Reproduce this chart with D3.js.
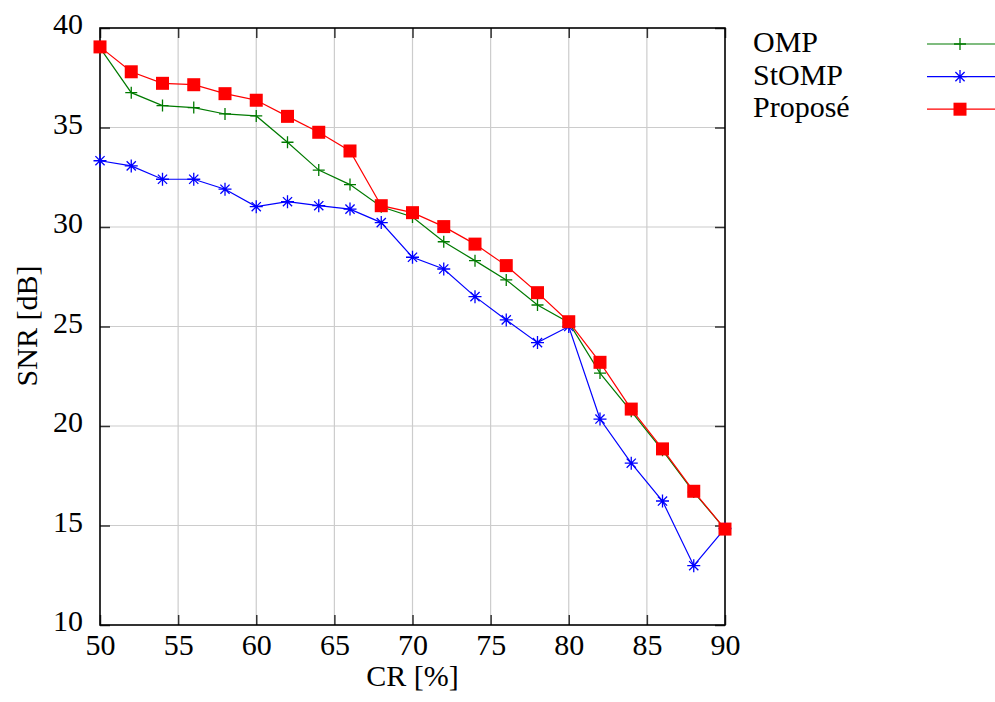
<!DOCTYPE html>
<html><head><meta charset="utf-8">
<script src="https://cdn.jsdelivr.net/npm/d3@7"></script>
<style>body{margin:0;background:#fff}svg{display:block}</style>
</head><body>
<svg id="c" width="995" height="702"></svg>
<script>
const cr = [50,52,54,56,58,60,62,64,66,68,70,72,74,76,78,80,82,84,86,88,90];
const omp = [39.0,36.75,36.1,36.0,35.68,35.58,34.26,32.86,32.13,31.02,30.5,29.26,28.31,27.34,26.08,25.2,22.66,20.74,18.78,16.68,14.82];
const stomp = [33.33,33.07,32.4,32.4,31.9,31.02,31.27,31.07,30.9,30.22,28.48,27.89,26.5,25.33,24.19,25.0,20.35,18.13,16.23,12.98,14.85];
const propose = [39.05,37.8,37.22,37.15,36.7,36.37,35.56,34.76,33.82,31.07,30.72,30.02,29.14,28.06,26.7,25.24,23.2,20.85,18.85,16.72,14.82];
const xTicks = [50,55,60,65,70,75,80,85,90];
const yTicks = [10,15,20,25,30,35,40];
const seriesNames = ["OMP","StOMP","Proposé"];
const seriesColors = ["#007a00","#0000ff","#ff0000"];
const seriesMarkers = ["plus","star","square"];

const FONT = "'Liberation Serif', 'Times New Roman', Times, serif";
const FS = 30;
const svg = d3.select("#c");
const L=100,R=725,T=28,B=625;
const x = d3.scaleLinear().domain([50,90]).range([L,R]);
const y = d3.scaleLinear().domain([10,40]).range([B,T]);

const g = svg.append("g");
g.selectAll(".gx").data(xTicks.slice(1,-1)).join("line")
 .attr("x1",d=>x(d)).attr("x2",d=>x(d)).attr("y1",T).attr("y2",B)
 .attr("stroke","#cccccc").attr("stroke-width",1.2);
g.selectAll(".gy").data(yTicks.slice(1,-1)).join("line")
 .attr("y1",d=>y(d)).attr("y2",d=>y(d)).attr("x1",L).attr("x2",R)
 .attr("stroke","#cccccc").attr("stroke-width",1.2);

const axB = svg.append("g").attr("transform",`translate(0,${B})`)
 .call(d3.axisBottom(x).tickValues(xTicks).tickSize(-10).tickSizeOuter(0));
const axT = svg.append("g").attr("transform",`translate(0,${T})`)
 .call(d3.axisTop(x).tickValues(xTicks).tickSize(-10).tickFormat("").tickSizeOuter(0));
const axL = svg.append("g").attr("transform",`translate(${L},0)`)
 .call(d3.axisLeft(y).tickValues(yTicks).tickSize(-10).tickSizeOuter(0));
const axR = svg.append("g").attr("transform",`translate(${R},0)`)
 .call(d3.axisRight(y).tickValues(yTicks).tickSize(-10).tickFormat("").tickSizeOuter(0));
[axB,axT,axL,axR].forEach(a=>{
  a.attr("font-family",FONT).attr("font-size",FS);
  a.select(".domain").remove();
  a.selectAll("line").attr("stroke","#333").attr("stroke-width",1.5);
  a.selectAll("text").attr("font-family",FONT).attr("font-size",FS).attr("fill","#000");
});
axB.selectAll("text").attr("dy",null).attr("y",30);
axL.selectAll("text").attr("dy","0.19em").attr("x",-17);

svg.append("rect").attr("x",L).attr("y",T).attr("width",R-L).attr("height",B-T)
 .attr("fill","none").attr("stroke","#000").attr("stroke-width",1.6);

function drawMarker(sel, type, color){
  if(type==="plus"){
    sel.append("path").attr("d","M-6,0H6M0,-6V6").attr("stroke",color).attr("stroke-width",1.3).attr("fill","none");
  } else if(type==="star"){
    sel.append("path").attr("d","M-6.5,0H6.5M-4.6,-4.6L4.6,4.6M-4.6,4.6L4.6,-4.6M0,-6.5V6.5").attr("stroke",color).attr("stroke-width",1.3).attr("fill","none");
  } else {
    sel.append("rect").attr("x",-6.5).attr("y",-6.5).attr("width",13).attr("height",13).attr("fill",color);
  }
}

const allData = [omp, stomp, propose];
const line = d3.line().x((d,i)=>x(cr[i])).y(d=>y(d));
allData.forEach((vals,si)=>{
  svg.append("path").datum(vals).attr("d",line).attr("fill","none")
   .attr("stroke",seriesColors[si]).attr("stroke-width",1.2);
  svg.append("g").selectAll("g").data(vals).join("g")
   .attr("transform",(d,i)=>`translate(${x(cr[i])},${y(d)})`)
   .each(function(){ drawMarker(d3.select(this), seriesMarkers[si], seriesColors[si]); });
});

seriesNames.forEach((n,i)=>{
  const yy = 44 + i*32.6;
  svg.append("text").attr("x",753).attr("y",yy+8).attr("font-family",FONT).attr("font-size",FS).text(n);
  svg.append("line").attr("x1",927).attr("x2",995).attr("y1",yy).attr("y2",yy)
   .attr("stroke",seriesColors[i]).attr("stroke-width",1.2);
  const m = svg.append("g").attr("transform",`translate(960,${yy})`);
  drawMarker(m, seriesMarkers[i], seriesColors[i]);
});

svg.append("text").attr("x",(L+R)/2).attr("y",686).attr("text-anchor","middle").attr("font-family",FONT).attr("font-size",FS).text("CR [%]");
svg.append("text").attr("transform",`translate(37,${326}) rotate(-90)`).attr("text-anchor","middle").attr("font-family",FONT).attr("font-size",FS).text("SNR [dB]");
</script>
</body></html>
